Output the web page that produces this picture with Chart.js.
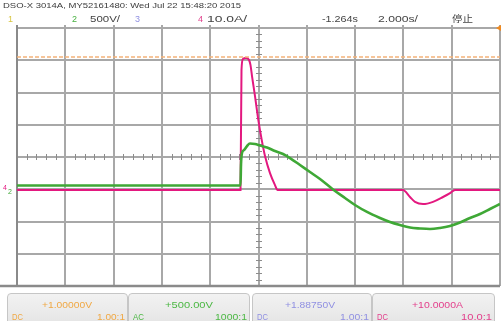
<!DOCTYPE html>
<html>
<head>
<meta charset="utf-8">
<script src="https://cdn.jsdelivr.net/npm/chart.js@4/dist/chart.umd.min.js"></script>
<style>
  html, body { margin: 0; padding: 0; background: #ffffff; }
  #wrap { position: relative; width: 501px; height: 321px; overflow: hidden;
          font-family: "Liberation Sans", Arial, sans-serif; }
  #c { position: absolute; left: 0; top: 0; }
  .t { position: absolute; white-space: nowrap; line-height: 1; transform-origin: 0 0; }
  .box { position: absolute; top: 293px; height: 36px; box-sizing: border-box;
         border: 1px solid #c6c6c6; border-radius: 4px;
         background: linear-gradient(#f2f2f2, #e3e3e3); }
</style>
</head>
<body>
<div id="wrap"><canvas id="c" width="501" height="321"></canvas></div>
<script>
// ---- time base: 2.000 s/div, centre at -1.264 s, 10 divisions ----
const timeCentre = -1.264;
const timePerDiv = 2.0;
const timeMin = timeCentre - 5 * timePerDiv;
const timeMax = timeCentre + 5 * timePerDiv;

// ---- channel 4: current (10.0 A/div, offset +10.0000 A) ----
const ch4Time = [-11.264, -2.009, -1.968, -1.906, -1.782, -1.657, -1.595, -1.533, -1.409, -1.272,
                 -1.131, -0.995, -0.788, -0.581, -0.477, 4.720, 5.009, 5.216, 5.548, 5.962,
                 6.376, 6.666, 6.873, 8.736];
const ch4Amps = [-0.2, -0.2, 37.0, 40.4, 40.7, 40.1, 38.5, 35.1, 28.9, 21.5,
                 15.3, 10.3, 5.0, 1.3, -0.2, -0.2, -2.4, -3.9, -4.6, -3.9,
                 -2.4, -1.2, -0.2, -0.2];

// ---- channel 2: voltage (500 V/div, offset +500.00 V, AC) ----
const ch2Time = [-11.264, -2.009, -1.989, -1.947, -1.864, -1.740, -1.616, -1.409, -1.202, -0.912,
                 -0.581, -0.249, 0.040, 0.454, 0.868, 1.283, 1.821, 2.318, 2.732, 3.229,
                 3.767, 4.181, 4.595, 5.009, 5.423, 5.837, 6.251, 6.666, 7.080, 7.494,
                 7.908, 8.322, 8.736];
const ch2Volts = [58, 58, 376, 562, 608, 670, 709, 701, 678, 647,
                  593, 546, 484, 376, 267, 159, -3, -135, -244, -352,
                  -445, -507, -554, -593, -608, -616, -600, -569, -515, -445,
                  -383, -306, -228];

// ---- channel 1: flat level (offset +1.00000 V) ----
const ch1Time = [-11.264, 8.736];
const ch1Volts = [4.1, 4.1];

// ---- status line and channel info panel texts ----
const titleLine = "DSO-X 3014A, MY52161480: Wed Jul 22 15:48:20 2015";
const scaleLabels = ["500V/", "10.0A/"];
const timeLabels = ["-1.264s", "2.000s/"];
const runState = "停止";
const chanOffsets = ["+1.00000V", "+500.00V", "+1.88750V", "+10.0000A"];
const chanCoupling = ["DC", "AC", "DC", "DC"];
const chanProbe = ["1.00:1", "1000:1", "1.00:1", "10.0:1"];

const COL1 = "#f0a844", COL2 = "#3fa836", COL3 = "#9090e2", COL4 = "#e3187f";

const toPoints = (xs, ys) => xs.map((x, i) => ({ x: x, y: ys[i] }));

// graticule: 10 x 8 divisions, with minor ticks on the centre axes
const graticule = {
  id: "graticule",
  beforeDatasetsDraw(chart) {
    const ctx = chart.ctx, a = chart.chartArea;
    const xs = chart.scales.x, ys = chart.scales.yA;
    ctx.save();
    ctx.strokeStyle = "#a8a8a8";
    ctx.lineWidth = 2;
    for (let k = 0; k <= 10; k++) {
      const x = Math.round(xs.getPixelForValue(timeMin + k * timePerDiv));
      ctx.beginPath(); ctx.moveTo(x, a.top - 3); ctx.lineTo(x, a.bottom); ctx.stroke();
    }
    for (let j = 0; j <= 8; j++) {
      const y = Math.round(ys.getPixelForValue(-30 + 10 * j));
      ctx.beginPath(); ctx.moveTo(a.left, y); ctx.lineTo(a.right, y); ctx.stroke();
    }
    // heavier frame on left and bottom
    ctx.strokeStyle = "#8a8a8a";
    ctx.lineWidth = 2;
    ctx.beginPath(); ctx.moveTo(a.left, a.top - 3); ctx.lineTo(a.left, a.bottom); ctx.stroke();
    ctx.lineWidth = 2.5;
    ctx.beginPath(); ctx.moveTo(0, a.bottom); ctx.lineTo(a.right, a.bottom); ctx.stroke();
    // minor ticks on centre axes
    const cx = Math.round(xs.getPixelForValue(timeCentre));
    const cy = Math.round(ys.getPixelForValue(10));
    ctx.strokeStyle = "#8c8c8c";
    ctx.lineWidth = 1;
    for (let m = 0; m <= 50; m++) {
      const x = Math.round(xs.getPixelForValue(timeMin + m * timePerDiv / 5)) + 0.5;
      if (m % 5 === 0) continue;
      ctx.beginPath(); ctx.moveTo(x, cy - 3); ctx.lineTo(x, cy + 3); ctx.stroke();
    }
    for (let m = 0; m <= 40; m++) {
      if (m % 5 === 0) continue;
      const y = Math.round(ys.getPixelForValue(-30 + m * 2)) + 0.5;
      ctx.beginPath(); ctx.moveTo(cx - 3, y); ctx.lineTo(cx + 3, y); ctx.stroke();
    }
    ctx.restore();
  },
  afterDraw(chart) {
    const ctx = chart.ctx, a = chart.chartArea;
    ctx.save();
    // trigger level marker
    ctx.fillStyle = "#f08a20";
    ctx.beginPath(); ctx.moveTo(a.right + 1, a.top - 3); ctx.lineTo(a.right - 4, a.top);
    ctx.lineTo(a.right + 1, a.top + 3); ctx.closePath(); ctx.fill();
    // ground reference markers
    ctx.font = "7px 'Liberation Sans', sans-serif";
    ctx.fillStyle = COL4; ctx.fillText("4", 3, 190);
    ctx.fillStyle = COL2; ctx.fillText("2", 8, 194);
    ctx.restore();
  }
};

new Chart(document.getElementById("c"), {
  type: "line",
  data: {
    datasets: [
      { data: toPoints(ch1Time, ch1Volts), yAxisID: "y1", borderColor: "#f3b27a",
        borderWidth: 1.5, borderDash: [4, 2], pointRadius: 0, tension: 0 },
      { data: toPoints(ch2Time, ch2Volts), yAxisID: "yV", borderColor: COL2,
        borderWidth: 2.6, pointRadius: 0, cubicInterpolationMode: "monotone" },
      { data: toPoints(ch4Time, ch4Amps), yAxisID: "yA", borderColor: COL4,
        borderWidth: 2, pointRadius: 0, cubicInterpolationMode: "monotone" }
    ]
  },
  options: {
    responsive: false,
    animation: false,
    devicePixelRatio: 1,
    layout: { padding: { left: 17, top: 28, right: 1, bottom: 35 } },
    plugins: { legend: { display: false }, tooltip: { enabled: false } },
    scales: {
      x: { type: "linear", min: timeMin, max: timeMax, display: false },
      yA: { type: "linear", min: -30, max: 50, display: false },
      yV: { type: "linear", min: -1500, max: 2500, display: false },
      y1: { type: "linear", min: -3, max: 5, display: false }
    }
  },
  plugins: [graticule]
});

// ---- text overlays ----
const wrap = document.getElementById("wrap");
function addText(o) {
  const el = document.createElement("div");
  el.className = "t";
  el.textContent = o.text;
  el.style.fontSize = o.size + "px";
  el.style.color = o.color;
  if (o.family) el.style.fontFamily = o.family;
  el.style.top = (o.base - 0.83 * o.size) + "px";
  wrap.appendChild(el);
  const w = el.getBoundingClientRect().width;
  const target = o.w || w;
  if (o.w) el.style.transform = "scaleX(" + (o.w / w) + ")";
  let left = o.x;
  if (o.align === "right") left = o.x - target;
  if (o.align === "center") left = o.x - target / 2;
  el.style.left = left + "px";
}

addText({ text: titleLine, x: 3, base: 8.6, size: 8, w: 238, color: "#3a3a3a" });
addText({ text: "1", x: 8, base: 22, size: 9, color: "#d8c640" });
addText({ text: "2", x: 72, base: 22, size: 9, color: "#48b040" });
addText({ text: scaleLabels[0], x: 90, base: 22, size: 9.5, w: 30, color: "#444" });
addText({ text: "3", x: 135, base: 22, size: 9, color: COL3 });
addText({ text: "4", x: 198, base: 22, size: 9, color: "#e0408c" });
addText({ text: scaleLabels[1], x: 207, base: 22, size: 9.5, w: 40, color: "#444" });
addText({ text: timeLabels[0], x: 322, base: 22, size: 9.5, w: 36, color: "#444" });
addText({ text: timeLabels[1], x: 378, base: 22, size: 9.5, w: 40, color: "#444" });
addText({ text: runState, x: 452, base: 22, size: 9.5, w: 21, color: "#444",
          family: "'Noto Sans CJK SC', sans-serif" });

// channel info boxes
const boxLeft = [7, 128, 252, 372];
const boxWidth = [121, 122, 120, 123];
const boxText = [COL1, "#4cb844", COL3, "#e3408c"];
for (let i = 0; i < 4; i++) {
  const b = document.createElement("div");
  b.className = "box";
  b.style.left = boxLeft[i] + "px";
  b.style.width = boxWidth[i] + "px";
  wrap.appendChild(b);
}
const offsetCentre = [67, 189, 310, 437];
const offsetWidth = [50, 48, 50, 51];
const probeWidth = [28, 32, 29, 31];
for (let i = 0; i < 4; i++) {
  addText({ text: chanOffsets[i], x: offsetCentre[i], base: 307.5, size: 9.5, w: offsetWidth[i],
            align: "center", color: boxText[i] });
  addText({ text: chanCoupling[i], x: boxLeft[i] + 5, base: 319.5, size: 9.5, w: 11, color: boxText[i] });
  addText({ text: chanProbe[i], x: boxLeft[i] + boxWidth[i] - 3, base: 319.5, size: 9.5,
            w: probeWidth[i], align: "right", color: boxText[i] });
}
</script>
</body>
</html>
